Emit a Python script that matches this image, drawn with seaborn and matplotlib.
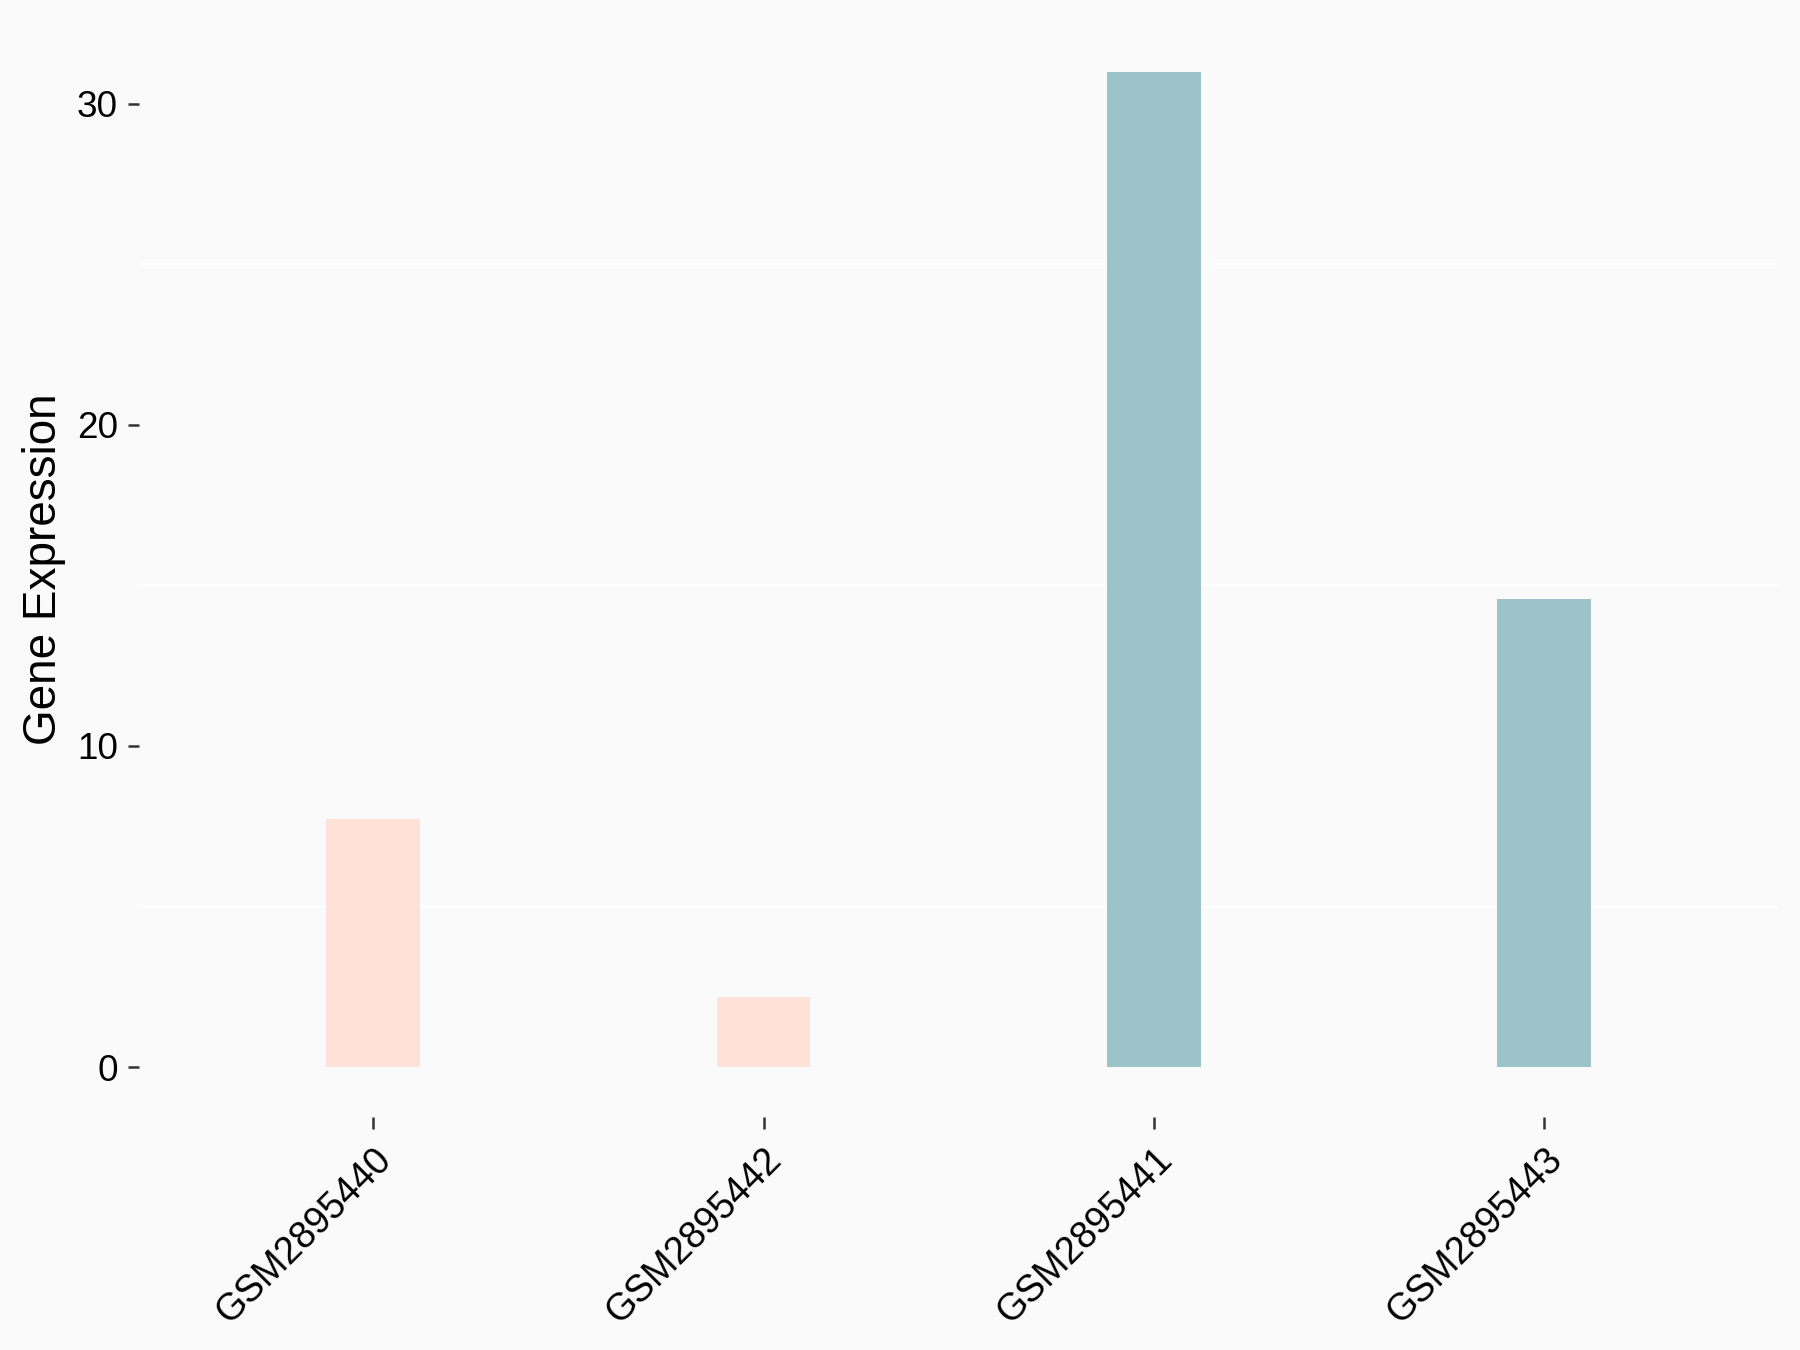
import matplotlib
matplotlib.use("Agg")
import matplotlib.pyplot as plt
import seaborn as sns
import pandas as pd
from matplotlib.ticker import MultipleLocator

samples = ["GSM2895440", "GSM2895442", "GSM2895441", "GSM2895443"]
expression = [7.73, 2.17, 30.98, 14.58]
groups = ["A", "A", "B", "B"]
palette = {"A": "#FFE1D7", "B": "#9CC4C8"}

df = pd.DataFrame({"sample": samples, "expr": expression, "group": groups})

sns.set_style("white")
plt.rcParams["font.family"] = ["Liberation Sans", "DejaVu Sans"]
plt.rcParams["text.color"] = "black"
plt.rcParams["axes.labelcolor"] = "black"
plt.rcParams["xtick.color"] = "black"
plt.rcParams["ytick.color"] = "black"

bg = "#FAFAFA"
fig, ax = plt.subplots(figsize=(9, 6.75), dpi=200)
fig.patch.set_facecolor(bg)
ax.set_facecolor(bg)
fig.subplots_adjust(left=0.0772, right=0.988, top=0.984, bottom=0.1726)

sns.barplot(data=df, x="sample", y="expr", hue="group", palette=palette,
            order=samples, width=0.24, dodge=False, legend=False,
            saturation=1, linewidth=0, edgecolor="none", ax=ax, zorder=2)

ax.set_xlim(-0.6, 3.6)
ax.set_ylim(-1.55, 32.55)
ax.yaxis.set_major_locator(MultipleLocator(10))
ax.yaxis.set_minor_locator(MultipleLocator(5))
for v in [5, 15, 25]:
    ax.axhline(v, color="white", lw=0.75, zorder=1)

for s in ax.spines.values():
    s.set_visible(False)

ax.tick_params(axis="y", which="major", length=4, width=0.9, color="#333333",
               labelsize=13.3, pad=3.6, left=True, labelcolor="black")
ax.tick_params(axis="y", which="minor", length=0, left=False)
ax.tick_params(axis="x", length=4.3, width=0.9, color="#333333",
               labelsize=13.5, pad=4.5, bottom=True, labelcolor="black")
plt.setp(ax.get_xticklabels(), rotation=45, ha="right", rotation_mode="anchor")

ax.set_xlabel("")
ax.set_ylabel("Gene Expression", fontsize=16.5, labelpad=4, color="black")

fig.savefig("out.png", dpi=200, facecolor=bg)
